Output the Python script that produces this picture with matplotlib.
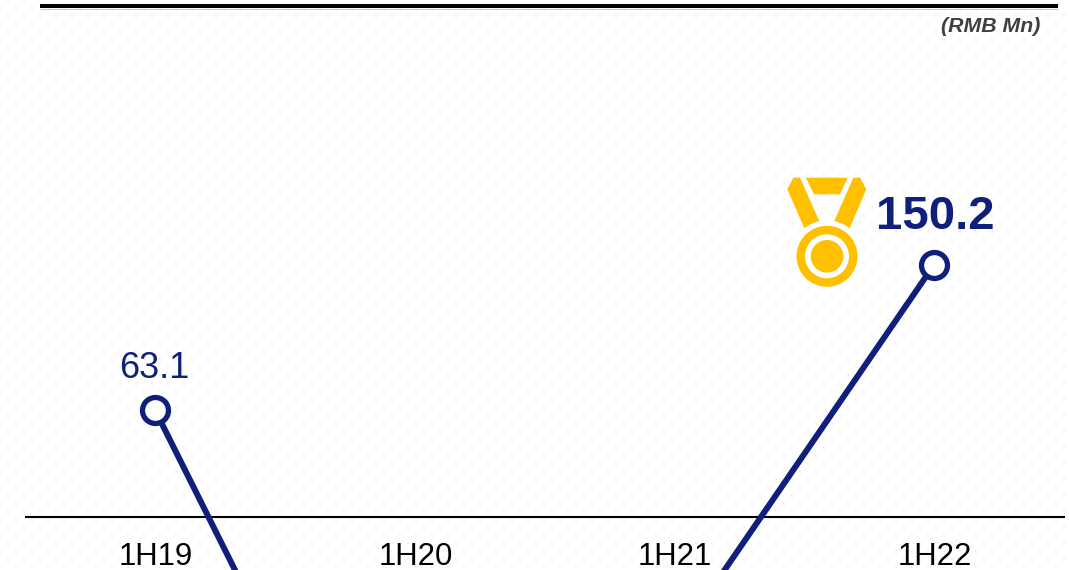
import numpy as np
import matplotlib
matplotlib.use('Agg')
import matplotlib.pyplot as plt
from matplotlib.patches import Circle, Polygon

plt.rcParams['font.family'] = ['Liberation Sans', 'DejaVu Sans']

#----data---------------------------------------------------------------
PERIODS = ['1H19', '1H20', '1H21', '1H22']
PROFIT = [63.1, -249.0, -77.0, 150.2]

NAVY = '#0F1F7A'
GOLD = '#FFC000'
W, H = 1069, 570

fig = plt.figure(figsize=(W/100, H/100), dpi=100, facecolor='white')

#----backdrop and decorations, laid out in pixels-----------------------
bg = fig.add_axes([0, 0, 1, 1], zorder=0)
bg.set_xlim(0, W)
bg.set_ylim(H, 0)
bg.axis('off')

# staggered dot texture
rows = np.arange(6.7, H, 8)
for k, y in enumerate(rows):
    xs = np.arange(-0.3 if k % 2 == 0 else 7.7, W, 16)
    bg.scatter(xs, np.full(xs.shape, y), s=2.1, marker='s', color='#F0F0F0', linewidths=0)

# top rule with its faint shadow
bg.plot([40, 1058], [8.6, 8.6], color='#C8C8C8', lw=0.7, solid_capstyle='butt')
bg.plot([40, 1058], [6, 6], color='black', lw=2.9, solid_capstyle='butt')
# baseline
bg.plot([25, 1065], [517, 517], color='black', lw=1.5, solid_capstyle='butt')

bg.text(1040, 27, '(RMB Mn)', ha='right', va='center', fontsize=15.3,
        fontweight='bold', fontstyle='italic', color='#404040')

# medal icon, ribbon ends are trimmed by the white disc
ribbons = [
    [(793.3, 177.7), (800, 177.7), (822.3, 228), (807, 234.3), (787.3, 189.3)],
    [(853.3, 177.7), (860, 177.7), (866.3, 189.3), (847, 234.3), (831.3, 228)],
    [(806, 177.7), (847.7, 177.7), (840, 194.3), (814, 194.3)],
]
for pts in ribbons:
    bg.add_patch(Polygon(pts, closed=True, facecolor=GOLD, edgecolor='none'))
for r, c in [(36, 'white'), (30.5, GOLD), (22, 'white'), (16.3, GOLD)]:
    bg.add_patch(Circle((827, 256.3), r, facecolor=c, edgecolor='none'))

#----line chart---------------------------------------------------------
ax = fig.add_axes([0, 0, 1, 1], zorder=1)
ax.patch.set_alpha(0)
ax.axis('off')
ax.set_xlim(-0.597, 3.52)
ax.set_ylim(-33.0, 309.3)

x = np.arange(len(PERIODS))
ax.plot(x, PROFIT, color=NAVY, lw=4.3, marker='o', ms=18.7, mfc='white',
        mec=NAVY, mew=3.8)

for i, name in enumerate(PERIODS):
    ax.annotate(name, (i, -30.0), xytext=(0.6, 0), textcoords='offset points',
                ha='center', va='baseline', fontsize=22.4, color='black')

ax.annotate(f'{PROFIT[0]}', (0, PROFIT[0]), xytext=(-0.5, 30), textcoords='offset points',
            ha='center', va='center', fontsize=26, color=NAVY)
ax.annotate(f'{PROFIT[3]}', (3, PROFIT[3]), xytext=(1, 34.5), textcoords='offset points',
            ha='center', va='center', fontsize=34, fontweight='bold', color=NAVY)

fig.savefig('out.png', dpi=100)
